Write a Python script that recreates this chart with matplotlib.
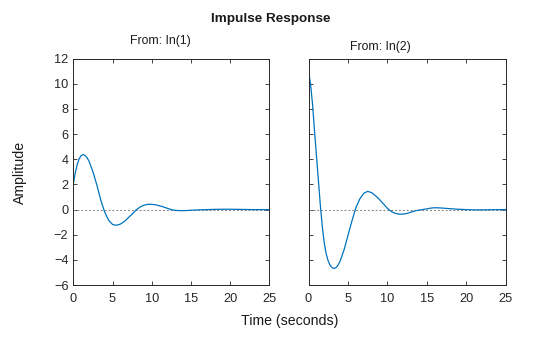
import matplotlib
matplotlib.use('Agg')
import matplotlib.pyplot as plt

plt.rcParams['font.family'] = ['Liberation Sans', 'DejaVu Sans']

# impulse response, input 1
t_in1 = [0, 0.25, 0.5, 0.75, 1.0, 1.25, 1.5, 1.75, 2.0, 2.5, 3.0, 3.5, 4.0, 4.5, 5.0,
         5.5, 6.0, 6.5, 7.0, 7.5, 8.0, 8.5, 9.0, 9.5, 10.0, 10.5, 11.0, 11.5, 12.0,
         12.5, 13.0, 13.5, 14.0, 14.5, 15.0, 16.0, 17.0, 18.0, 19.0, 20.0, 21.0,
         22.0, 23.0, 24.0, 25.0]
y_in1 = [2.05, 2.95, 3.6, 4.05, 4.3, 4.37, 4.3, 4.12, 3.85, 3.0, 1.95, 0.75, -0.2,
         -0.85, -1.18, -1.25, -1.15, -0.95, -0.65, -0.35, -0.03, 0.2, 0.35, 0.42,
         0.42, 0.38, 0.3, 0.21, 0.1, 0.0, -0.06, -0.08, -0.08, -0.07, -0.05, -0.02,
         0.0, 0.02, 0.03, 0.03, 0.02, 0.01, 0.0, 0.0, 0.0]

# input 2
t_in2 = [0, 0.25, 0.5, 0.75, 1.0, 1.25, 1.5, 1.75, 2.0, 2.25, 2.5, 2.75, 3.0, 3.25,
         3.5, 3.75, 4.0, 4.5, 5.0, 5.5, 6.0, 6.5, 7.0, 7.5, 8.0, 8.5, 9.0, 9.5,
         10.0, 10.5, 11.0, 11.5, 12.0, 12.5, 13.0, 13.5, 14.0, 14.5, 15.0, 15.5,
         16.0, 16.5, 17.0, 18.0, 19.0, 20.0, 21.0, 22.0, 23.0, 24.0, 25.0]
y_in2 = [10.9, 10.0, 8.4, 6.3, 4.3, 2.3, 0.3, -1.4, -2.7, -3.55, -4.1, -4.45, -4.62,
         -4.68, -4.6, -4.4, -4.1, -3.2, -2.05, -0.9, 0.15, 0.85, 1.3, 1.45, 1.35,
         1.1, 0.8, 0.45, 0.1, -0.15, -0.3, -0.36, -0.36, -0.3, -0.2, -0.1, -0.04,
         0.01, 0.06, 0.12, 0.15, 0.14, 0.12, 0.07, 0.03, 0.0, -0.02, -0.02, -0.01,
         0.0, 0.0]

x_ticks = [0, 5, 10, 15, 20, 25]
y_ticks = [-6, -4, -2, 0, 2, 4, 6, 8, 10, 12]

line_col = '#0072BD'
frame_col = '#262626'

fig = plt.figure(figsize=(5.6, 3.37), dpi=100)
ax1 = fig.add_axes([0.131, 0.154, 0.350, 0.672])
ax2 = fig.add_axes([0.551, 0.154, 0.352, 0.672])

for ax, t, y in [(ax1, t_in1, y_in1), (ax2, t_in2, y_in2)]:
    ax.axhline(0, color='#808080', linestyle=(0, (2, 2)), linewidth=0.7)
    ax.plot(t, y, color=line_col, linewidth=0.9)
    ax.set_xlim(0, 25)
    ax.set_ylim(-6, 12)
    ax.set_xticks(x_ticks)
    ax.set_yticks(y_ticks)
    ax.tick_params(direction='in', top=True, right=True, length=3, width=0.6,
                   labelsize=9.2, colors=frame_col)
    ax.tick_params(axis='x', pad=5.5)
    ax.tick_params(axis='y', pad=3.5)
    for s in ax.spines.values():
        s.set_color(frame_col)
        s.set_linewidth(0.7)

ax2.tick_params(labelleft=False)

fig.text(0.483, 0.943, 'Impulse Response', ha='center', va='center',
         fontsize=9.7, fontweight='bold', color='#1a1a1a')
fig.text(0.286, 0.878, 'From: In(1)', ha='center', va='center', fontsize=8.8,
         color='#1a1a1a')
fig.text(0.679, 0.861, 'From: In(2)', ha='center', va='center', fontsize=8.8,
         color='#1a1a1a')
fig.text(0.518, 0.048, 'Time (seconds)', ha='center', va='center', fontsize=10.2,
         color='#1a1a1a')
fig.text(0.036, 0.488, 'Amplitude', ha='center', va='center', rotation=90,
         fontsize=10.2, color='#1a1a1a')

fig.savefig('out.png', dpi=100, facecolor='white')
